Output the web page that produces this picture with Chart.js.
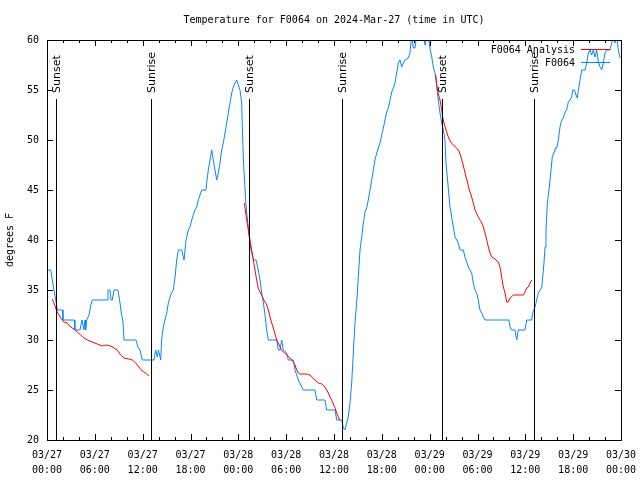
<!DOCTYPE html>
<html><head><meta charset="utf-8">
<script src="https://cdn.jsdelivr.net/npm/chart.js@4.4.1/dist/chart.umd.min.js"></script>
<style>html,body{margin:0;padding:0;background:#fff}#wrap{width:640px;height:480px}</style>
</head><body><div id="wrap"><canvas id="c" width="640" height="480"></canvas></div>
<script>
const titleText = 'Temperature for F0064 on 2024-Mar-27 (time in UTC)';
const yAxisLabel = 'degrees F';
const dayLabels = ['03/27', '03/28', '03/29', '03/30'];
const obsLabel = 'F0064';
const anaLabel = 'F0064 Analysis';

// hours since 03/27 00:00 UTC
const obsHours = [
 0.13,0.46,0.54,0.72,0.88,1.04,1.17,1.29,1.97,2.0,
 3.42,3.5,4.14,4.39,4.64,4.77,4.85,4.98,5.27,5.48,
 5.68,7.56,7.65,7.9,8.03,8.19,8.4,8.9,9.16,9.32,
 9.53,9.66,11.16,11.41,11.67,11.95,13.42,13.63,13.83,13.98,
 14.26,14.38,14.59,14.8,15.02,15.22,15.43,15.64,15.84,16.06,
 16.27,16.47,16.9,17.19,17.44,17.72,17.94,18.15,18.35,18.56,
 18.78,18.98,19.19,19.4,19.94,20.03,20.23,20.45,20.66,20.86,
 21.07,21.29,21.49,21.7,21.91,22.11,22.33,22.54,22.74,22.96,
 23.17,23.37,23.58,23.8,24.0,24.21,24.42,24.5,24.62,24.75,
 24.92,25.05,25.25,25.46,25.68,25.88,26.22,26.5,26.72,26.93,
 27.13,27.35,27.56,27.76,28.81,29.02,29.23,29.44,29.64,30.07,
 30.27,30.9,31.11,31.52,32.15,33.62,33.83,34.87,35.08,36.13,
 36.34,36.97,37.17,37.38,37.59,37.79,38.01,38.22,38.42,38.63,
 38.84,39.05,39.26,39.48,39.68,39.89,40.1,40.3,40.52,40.73,
 40.93,41.14,41.36,41.56,41.77,41.98,42.19,42.4,42.61,42.81,
 43.03,43.24,43.44,43.65,43.86,44.07,44.28,44.49,44.69,44.91,
 45.32,45.53,45.75,45.95,46.16,46.37,46.79,47.2,47.42,47.63,
 47.83,48.04,48.26,48.46,48.67,48.88,49.08,49.3,49.51,49.71,
 49.92,50.05,50.21,50.39,50.55,50.76,50.97,51.18,51.39,51.59,
 51.81,52.22,52.43,52.65,52.85,53.06,53.27,53.47,53.69,53.9,
 54.1,54.31,54.52,54.73,54.94,57.95,58.08,58.29,58.7,58.92,
 59.12,59.96,60.17,60.8,60.93,61.21,61.43,61.63,61.84,62.05,
 62.18,62.34,62.47,62.59,62.76,63.01,63.22,63.38,63.6,63.72,
 63.94,64.14,64.35,64.56,64.76,64.98,65.19,65.39,65.6,65.82,
 65.94,66.15,66.36,66.52,66.65,66.86,67.07,67.49,67.7,67.9,
 68.11,68.32,68.53,68.74,68.95,69.16,69.37,69.58,69.78,69.99,
 70.2,70.41,70.62,70.83,71.03,71.25,71.46,71.67,71.88
];
const obsTemps = [
 37,37,36.7,35.7,35,34.2,33.7,33,33,32,
 32,31,31,32,31,32,31,32,32.5,33.5,
 34,34,35,35,34,34,35,35,33.7,32.7,
 31.8,30,30,29.3,29,28,28,29,28.3,29,
 28,30,31.3,32,32.7,33.7,34.3,34.7,35,36.3,
 38,39,39,38,40,41,41.3,42,42.5,43,
 43.3,44,44.5,45,45,45.7,47,48,49,48,
 47,46,46.7,47.7,49,49.7,50.7,51.7,52.7,53.7,
 54.7,55.3,55.7,56,55.5,55,53.7,51.3,48.3,46.3,
 44,42.7,41.3,39.6,38.7,38,38,37,36,34.7,
 33.8,32.5,31,30,30,29,29,30,29,28.7,
 28,28,27,26,25,25,24,24,23,23,
 22,22,21.2,21,21.7,22.3,23.7,25.7,28.7,31.7,
 33.7,36.3,39,40.3,41.7,42.8,43.2,44,45,46,
 47,48,48.7,49.2,49.7,50.5,51.2,52,52.8,53.2,
 54,54.8,55.2,55.7,56.7,57.7,58,57.3,57.7,58,
 58.2,58.7,60.5,59.2,59.2,60.5,61,60.5,59.5,60.5,
 60.3,59.2,58.3,57.3,56.7,55.5,54,52.7,51.7,51,
 50,47.7,46.3,44.7,43.3,42.3,41.3,40.3,40,39.7,
 39,39,38.3,37.8,37.3,37,36.7,35.7,35,34.7,
 34,33,32.7,32.3,32,32,31.3,31,31,30,
 31,31,32,32,32.7,33.3,34,34.7,35,35.2,
 36.3,37.7,39.3,41,43.7,45.3,47,48.3,48.8,49.2,
 49.2,50,51.3,52,52.2,52.8,53,53.8,54,54.3,
 55,55,54.5,54.2,55,56,57,57,57.7,58.7,
 59,58.5,59,58.3,59,57.8,57.3,57,57.7,58.7,
 59,59,59,59.7,60.5,59.7,60.5,59,58.2
];

// analysis series (null = gap)
const anaHours = [
 0.66,0.88,1.09,1.29,1.51,1.72,1.92,2.13,2.55,2.97,3.39,3.8,4.23,4.64,5.06,5.68,
 6.31,6.94,7.36,7.99,8.4,8.82,9.24,9.66,10.29,10.7,11.13,11.54,11.95,12.38,12.79,
 18,
 24.75,25.05,25.25,25.46,25.68,25.88,26.09,26.3,26.5,26.72,26.93,27.13,27.56,27.76,
 27.97,28.19,28.39,28.6,28.81,29.02,29.23,29.44,29.64,29.85,30.07,30.48,30.9,31.11,
 31.32,31.52,31.74,32.58,32.99,33.2,33.62,34.03,34.46,34.87,35.08,35.29,35.5,35.71,
 35.91,36.13,36.34,36.54,36.75,
 42,
 48.76,48.96,49.3,49.51,49.63,49.8,50.05,50.34,50.64,50.97,51.39,51.72,51.93,52.14,
 52.35,52.56,52.77,52.97,53.27,53.47,53.69,54.1,54.53,54.73,54.94,55.16,55.36,55.57,
 55.78,56.2,56.61,56.82,57.03,57.24,57.45,57.66,57.86,58.08,58.5,59.75,59.96,60.17,
 60.37,60.59,60.8
];
const anaTemps = [
 34.1,33.7,33.2,32.8,32.5,32.2,32,31.8,31.7,31.3,31.1,30.8,30.5,30.2,30,29.8,
 29.6,29.4,29.5,29.4,29.2,29,28.5,28.2,28.1,28,27.7,27.3,26.9,26.7,26.4,
 null,
 43.7,42,41,40,39,38,37,36,35.2,34.8,34.5,34.1,33.5,33,
 32.3,31.7,31.2,30.6,30,29.7,29.3,29,28.8,28.7,28.5,28.2,27.8,27.5,
 27,26.7,26.6,26.6,26.5,26.3,26,25.7,25.6,25.3,25,24.7,24.3,24,
 23.6,23.2,22.7,22.3,22,
 null,
 56.5,55,54,53,52.3,51.7,51,50.3,49.8,49.5,49.2,48.8,48.3,47.7,
 47,46.3,45.7,45,44.3,43.7,43,42.3,41.7,41.3,40.7,40,39.3,38.7,
 38.3,38.1,37.8,37.3,36.3,35.3,34.7,33.8,33.8,34.2,34.5,34.5,34.8,35.2,
 35.3,35.7,36
];

const eventHours = [1.19, 13.11, 25.4, 37.07, 49.61, 61.15];
const eventNames = ['Sunset', 'Sunrise', 'Sunset', 'Sunrise', 'Sunset', 'Sunrise'];
const eventTop = 54.1;

const yTicks = [20, 25, 30, 35, 40, 45, 50, 55, 60];

const toPts = (hs, vs) => hs.map((h, i) => ({ x: h, y: vs[i] }));
const eventPts = [];
eventHours.forEach(h => { eventPts.push({ x: h, y: 20 }, { x: h, y: eventTop }, { x: h, y: null }); });

const MONO = '"DejaVu Sans Mono", "Liberation Mono", monospace';
const BLUE = '#0a84ff';
const RED = '#ff0000';

const overlay = {
  id: 'overlay',
  afterDraw(chart) {
    const { ctx, chartArea: a, scales: { x, y } } = chart;
    const L = Math.round(a.left), R = Math.round(a.right), T = Math.round(a.top), B = Math.round(a.bottom);
    ctx.save();
    ctx.strokeStyle = '#000';
    ctx.lineWidth = 1;
    ctx.strokeRect(L + 0.5, T + 0.5, R - L, B - T);
    ctx.beginPath();
    for (let h = 0; h <= 72; h += 2) {
      const px = Math.round(x.getPixelForValue(h)) + 0.5;
      const len = h % 6 === 0 ? 6 : 3;
      ctx.moveTo(px, B); ctx.lineTo(px, B - len);
      ctx.moveTo(px, T); ctx.lineTo(px, T + len);
    }
    yTicks.forEach(v => {
      const py = Math.round(y.getPixelForValue(v)) + 0.5;
      ctx.moveTo(L, py); ctx.lineTo(L + 6, py);
      ctx.moveTo(R, py); ctx.lineTo(R - 6, py);
    });
    ctx.stroke();

    // event labels
    ctx.fillStyle = '#000';
    ctx.font = '11px "DejaVu Sans", sans-serif';
    ctx.textAlign = 'left';
    ctx.textBaseline = 'middle';
    eventHours.forEach((h, i) => {
      const px = x.getPixelForValue(h);
      const py = y.getPixelForValue(eventTop) - 6;
      ctx.save();
      ctx.translate(px + 0.5, py);
      ctx.rotate(-Math.PI / 2);
      ctx.fillText(eventNames[i], 0, 0);
      ctx.restore();
    });

    // title
    ctx.font = '10px ' + MONO;
    ctx.textAlign = 'center';
    ctx.fillText(titleText, (L + R) / 2, 20);

    // y axis title
    ctx.save();
    ctx.translate(10, (T + B) / 2);
    ctx.rotate(-Math.PI / 2);
    ctx.fillText(yAxisLabel, 0, 0);
    ctx.restore();

    // legend
    ctx.textAlign = 'right';
    const rows = [[anaLabel, RED, 50], [obsLabel, BLUE, 63]];
    rows.forEach(([t, c, ry]) => {
      ctx.fillStyle = '#000';
      ctx.fillText(t, 575, ry);
      ctx.strokeStyle = c;
      ctx.beginPath();
      ctx.moveTo(581, ry - 0.5); ctx.lineTo(610, ry - 0.5);
      ctx.stroke();
    });
    ctx.restore();
  }
};

new Chart(document.getElementById('c'), {
  type: 'line',
  data: {
    datasets: [
      { label: anaLabel, data: toPts(anaHours, anaTemps), borderColor: RED, borderWidth: 1, pointRadius: 0, tension: 0, spanGaps: false, order: 1 },
      { label: obsLabel, data: toPts(obsHours, obsTemps), borderColor: BLUE, borderWidth: 1, pointRadius: 0, tension: 0, order: 2 },
      { label: 'events', data: eventPts, borderColor: '#000', borderWidth: 1, pointRadius: 0, tension: 0, spanGaps: false, order: 0 }
    ]
  },
  options: {
    responsive: false,
    animation: false,
    devicePixelRatio: 1,
    layout: { padding: { top: 40, right: 19, left: 0, bottom: 0 } },
    plugins: { legend: { display: false }, title: { display: false }, tooltip: { enabled: false } },
    scales: {
      x: {
        type: 'linear', min: 0, max: 72,
        afterFit(s) { s.height = 40; s.paddingLeft = 0; s.paddingRight = 0; },
        grid: { display: false, drawTicks: false },
        border: { display: false },
        ticks: {
          stepSize: 2, autoSkip: false, maxRotation: 0, minRotation: 0, padding: 8, color: '#000',
          font: { family: MONO, size: 10, lineHeight: 1.5 },
          callback: v => {
            if (v % 6 !== 0) return '';
            const d = Math.floor(v / 24), hr = v % 24;
            return [dayLabels[d], (hr < 10 ? '0' : '') + hr + ':00'];
          }
        }
      },
      y: {
        min: 20, max: 60,
        afterFit(s) { s.width = 47; s.paddingTop = 0; s.paddingBottom = 0; },
        grid: { display: false, drawTicks: false },
        border: { display: false },
        ticks: { stepSize: 5, padding: 8, color: '#000', font: { family: MONO, size: 10 } }
      }
    }
  },
  plugins: [overlay]
});
</script>
</body></html>
